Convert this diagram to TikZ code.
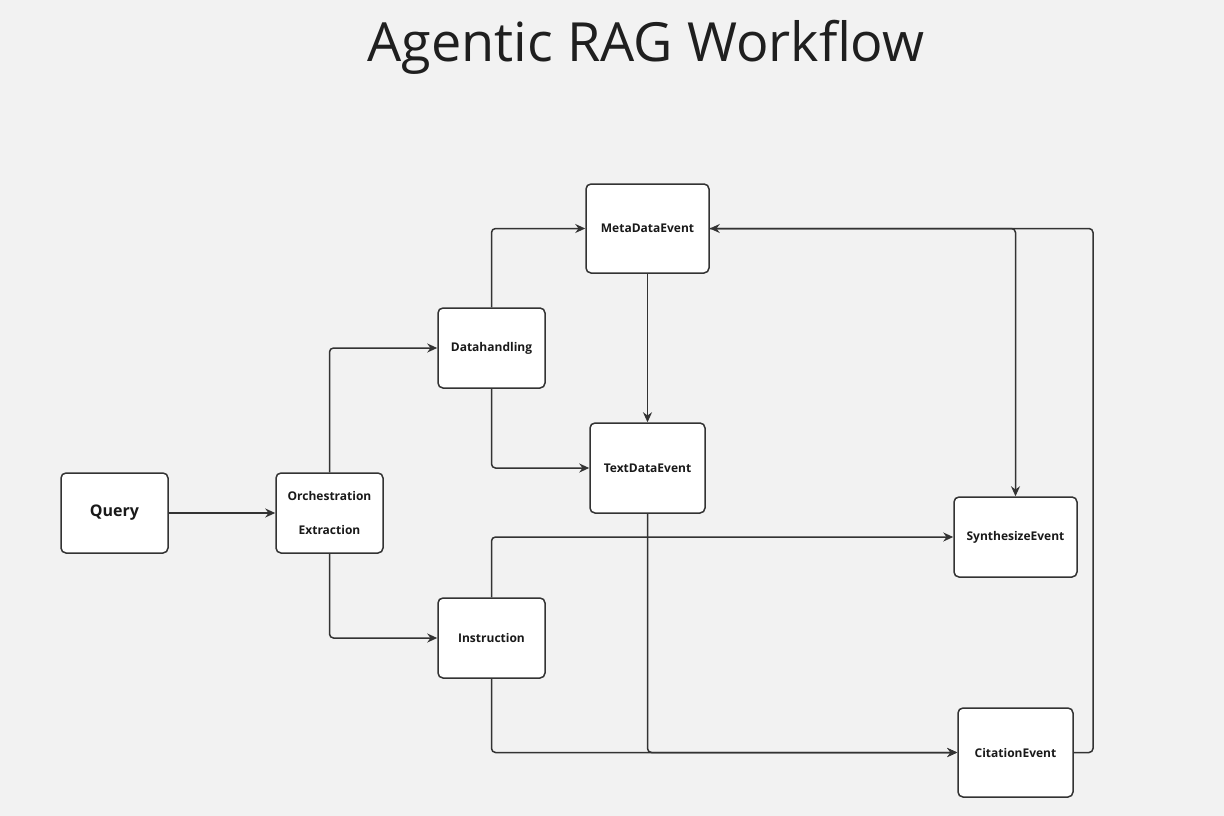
\documentclass[tikz,border=0pt]{standalone}
\usepackage{fontspec}
\setmainfont{Open Sans}
\usetikzlibrary{arrows.meta}
\definecolor{bg}{HTML}{F2F2F2}
\definecolor{ink}{HTML}{333333}
\begin{document}
\begin{tikzpicture}[x=1pt,y=-1pt,
  box/.style={draw=ink,fill=white,line width=1.5pt,rounded corners=5pt,
    minimum width=107pt,minimum height=80pt,inner sep=0pt,align=center,
    font=\bfseries\fontsize{12}{14}\selectfont,text=black!90},
  conn/.style={draw=ink,line width=1.5pt,rounded corners=4pt,
    -{Stealth[length=10pt,width=9pt]}}]
\fill[bg] (0,0) rectangle (1224,816);
\useasboundingbox (0,0) rectangle (1224,816);
\node[font=\fontsize{54}{58}\selectfont,text=black!88] (title) at (646,47) {Agentic RAG Workflow};
\node[box,font=\bfseries\fontsize{16}{18}\selectfont] (query) at (114.5,513) {Query};
\node[box,font=\bfseries\fontsize{12}{34}\selectfont] (orch) at (329.5,513) {Orchestration\\Extraction};
\node[box] (dh) at (491.5,348) {Datahandling};
\node[box] (instr) at (491.5,638) {Instruction};
\node[box,minimum width=123pt,minimum height=89pt] (meta) at (647.5,228.5) {MetaDataEvent};
\node[box,minimum width=115pt,minimum height=90pt] (text) at (647.5,468) {TextDataEvent};
\node[box,minimum width=123pt,minimum height=80pt] (synth) at (1015.5,537) {SynthesizeEvent};
\node[box,minimum width=115pt,minimum height=89pt] (cit) at (1015.5,752.5) {CitationEvent};
\coordinate (c1) at (1093,752.5);
\draw[conn] (query.east) -- (orch.west);
\draw[conn] (orch.north) |- (dh.west);
\draw[conn] (orch.south) |- (instr.west);
\draw[conn] (dh.north) |- (meta.west);
\draw[conn] (dh.south) |- (text.west);
\draw[conn] (meta.south) -- (text.north);
\draw[conn] (instr.north) |- (synth.west);
\draw[conn] (instr.south) |- (cit.west);
\draw[conn] (text.south) |- (cit.west);
\draw[conn] (meta.east) -| (synth.north);
\draw[conn] (cit.east) -- (c1) |- (meta.east);
\end{tikzpicture}
\end{document}
